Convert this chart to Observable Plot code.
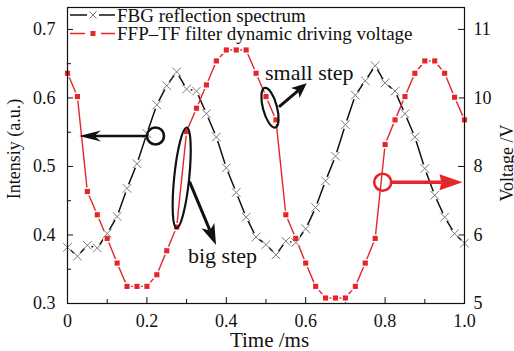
<!DOCTYPE html>
<html><head><meta charset="utf-8">
<script src="https://cdn.jsdelivr.net/npm/d3@7"></script>
<script src="https://cdn.jsdelivr.net/npm/@observablehq/plot@0.6"></script>
<style>body{margin:0;background:#fff}</style>
</head><body><div id="chart"></div>
<script>
// ---- data ----
const time = [0,0.025,0.05,0.075,0.1,0.125,0.15,0.175,0.2,0.225,0.25,0.275,0.3,0.325,0.35,0.375,0.4,0.425,0.45,0.475,0.5,0.525,0.55,0.575,0.6,0.625,0.65,0.675,0.7,0.725,0.75,0.775,0.8,0.825,0.85,0.875,0.9,0.925,0.95,0.975,1.0];
const fbgIntensity = [0.382,0.369,0.385,0.381,0.402,0.427,0.468,0.504,0.548,0.590,0.618,0.638,0.613,0.610,0.577,0.543,0.498,0.462,0.426,0.397,0.386,0.371,0.391,0.389,0.409,0.440,0.479,0.515,0.561,0.604,0.625,0.647,0.622,0.610,0.577,0.543,0.497,0.458,0.426,0.402,0.388];
const driveVoltage = [10.36,10.02,7.27,6.59,5.95,5.59,5.25,5.25,5.25,5.42,5.77,6.23,9.02,9.70,10.19,10.54,10.70,10.70,10.70,10.36,10.02,9.36,6.59,5.95,5.59,5.25,5.08,5.08,5.08,5.25,5.59,5.95,8.64,9.36,10.02,10.36,10.54,10.54,10.36,10.01,9.36];
const xTicks = [0,0.2,0.4,0.6,0.8,1.0];
const xMinorTicks = [0.1,0.3,0.5,0.7,0.9];
const yTicks = [0.3,0.4,0.5,0.6,0.7];
const yMinorTicks = [0.35,0.45,0.55,0.65];
const voltTicks = [5,6,8,10,11];
const seriesNames = ["FBG reflection spectrum","FFP\u2013TF filter dynamic driving voltage"];
const axisTitles = {x:"Time /ms", y:"Intensiy (a.u.)", y2:"Voltage /V"};
// annotation anchors in data units (time, left-axis value)
const annotations = {
  blackCircle:[0.2229,0.5438], blackTip:[0.0302,0.5438],
  redCircle:[0.7952,0.4762], redTip:[0.9962,0.4762],
  smallEllipse:[0.5113,0.5850], smallTail:[0.534,0.5861], smallTip:[0.6038,0.6207], smallText:[0.4987,0.6255],
  bigEllipse:[0.2889,0.4828], bigTail:[0.3086,0.4771], bigTip:[0.3753,0.3847], bigText:[0.3048,0.3584]
};

const RED = "#e4262b";
const W = 514, H = 351, ML = 67, MR = 50, MT = 7, MB = 48;
const PW = W - ML - MR, PH = H - MT - MB;

// right axis is piecewise: its tick labels sit at the left-axis tick heights
const voltToY = d3.scaleLinear().domain(voltTicks).range(yTicks);

const fbg = time.map((t,i) => ({t, v: fbgIntensity[i]}));
const drv = time.map((t,i) => ({t, v: driveVoltage[i]}));

const plot = Plot.plot({
  width: W, height: H, marginLeft: ML, marginRight: MR, marginTop: MT, marginBottom: MB,
  x: {domain: [0, 1]},
  y: {domain: [0.3, 0.732]},
  style: {fontFamily: "'Liberation Serif', serif", fontSize: "18px", background: "#fff", color: "#111"},
  marks: [
    Plot.tickY(yTicks, {y: d => d, insetRight: PW - 6, stroke: "#111"}),
    Plot.tickY(yMinorTicks, {y: d => d, insetRight: PW - 4, stroke: "#111"}),
    Plot.tickY(yTicks, {y: d => d, insetLeft: PW - 6, stroke: "#111"}),
    Plot.tickX(xTicks, {x: d => d, insetTop: PH - 6, stroke: "#111"}),
    Plot.tickX(xMinorTicks, {x: d => d, insetTop: PH - 4, stroke: "#111"}),
    Plot.line(fbg, {x: "t", y: "v", stroke: "#111", strokeWidth: 1.5}),
    Plot.line(drv, {x: "t", y: d => voltToY(d.v), stroke: RED, strokeWidth: 1.4}),
    Plot.dot(fbg, {x: "t", y: "v", r: 4.3, fill: "#fff"}),
    Plot.dot(drv, {x: "t", y: d => voltToY(d.v), symbol: "square", r: 4.6, fill: "#fff"}),
    Plot.dot(fbg, {x: "t", y: "v", symbol: "times", r: 4, stroke: "#7a7a7a", strokeWidth: 1}),
    Plot.dot(drv, {x: "t", y: d => voltToY(d.v), symbol: "square", r: 2.9, fill: RED}),
    Plot.frame({stroke: "#111", strokeWidth: 1.2}),
    Plot.axisX(xTicks, {tickSize: 0, tickPadding: 11, label: null, fontSize: 18,
      tickFormat: d => d === 0 ? "0" : d.toFixed(1)}),
    Plot.axisY(yTicks, {anchor: "left", tickSize: 0, tickPadding: 12, label: null, fontSize: 18,
      tickFormat: d => d.toFixed(1)}),
    Plot.axisY(voltTicks.map(v => voltToY(v)), {anchor: "right", tickSize: 0, tickPadding: 9, label: null, fontSize: 18,
      tickFormat: d => String(Math.round(voltToY.invert(d)))})
  ]
});
document.getElementById("chart").appendChild(plot);

// ---- overlay: titles, legend, annotations (positioned through Plot's scales) ----
const sx = plot.scale("x"), sy = plot.scale("y");
const X = d3.scaleLinear(sx.domain, sx.range), Y = d3.scaleLinear(sy.domain, sy.range);
const P = a => [X(a[0]), Y(a[1])];
const g = d3.select(plot).append("g").attr("font-family", "'Liberation Serif', serif").attr("fill", "#111").attr("text-anchor", "start");

g.append("text").attr("transform", `translate(20,${(MT + H - MB) / 2 - 6}) rotate(-90)`)
  .attr("text-anchor", "middle").attr("font-size", 18).text(axisTitles.y);
g.append("text").attr("transform", `translate(513,${(MT + H - MB) / 2 + 8}) rotate(-90)`)
  .attr("text-anchor", "middle").attr("font-size", 18).text(axisTitles.y2);
g.append("text").attr("x", (ML + W - MR) / 2 + 4).attr("y", H - 4)
  .attr("text-anchor", "middle").attr("font-size", 21).text(axisTitles.x);

// legend
const lx = ML + 3;
g.append("line").attr("x1", lx).attr("x2", lx + 17).attr("y1", 15).attr("y2", 15).attr("stroke", "#111").attr("stroke-width", 1.5);
g.append("line").attr("x1", lx + 29).attr("x2", lx + 45).attr("y1", 15).attr("y2", 15).attr("stroke", "#111").attr("stroke-width", 1.5);
g.append("path").attr("d", `M${lx+19.5},${11.5}L${lx+26.5},${18.5}M${lx+26.5},${11.5}L${lx+19.5},${18.5}`).attr("stroke", "#7a7a7a").attr("fill", "none");
g.append("text").attr("x", lx + 47).attr("y", 22).attr("text-anchor", "start").attr("font-size", 19).text(seriesNames[0]);
g.append("line").attr("x1", lx).attr("x2", lx + 15).attr("y1", 33.5).attr("y2", 33.5).attr("stroke", RED).attr("stroke-width", 1.5);
g.append("line").attr("x1", lx + 31).attr("x2", lx + 45).attr("y1", 33.5).attr("y2", 33.5).attr("stroke", RED).attr("stroke-width", 1.5);
g.append("rect").attr("x", lx + 20.5).attr("y", 31).attr("width", 5).attr("height", 5).attr("fill", RED);
g.append("text").attr("x", lx + 47).attr("y", 39.5).attr("text-anchor", "start").attr("font-size", 19).text(seriesNames[1]);

function arrow(tail, tip, color, width, headLen, headHalf, notch) {
  const [x1, y1] = tail, [x2, y2] = tip;
  const a = Math.atan2(y2 - y1, x2 - x1), ux = Math.cos(a), uy = Math.sin(a), nx = -uy, ny = ux;
  const bx = x2 - ux * headLen, by = y2 - uy * headLen;
  const qx = x2 - ux * headLen * (1 - notch), qy = y2 - uy * headLen * (1 - notch);
  g.append("line").attr("x1", x1).attr("y1", y1).attr("x2", qx).attr("y2", qy)
    .attr("stroke", color).attr("stroke-width", width);
  g.append("path").attr("d", `M${x2},${y2}L${bx + nx * headHalf},${by + ny * headHalf}L${qx},${qy}L${bx - nx * headHalf},${by - ny * headHalf}Z`)
    .attr("fill", color);
}
function ringArrow(center, tip, color, r, width, headLen, headHalf, notch) {
  const [cx, cy] = P(center), [tx, ty] = P(tip);
  g.append("circle").attr("cx", cx).attr("cy", cy).attr("r", r).attr("fill", "none").attr("stroke", color).attr("stroke-width", 2.6);
  const d = Math.hypot(tx - cx, ty - cy);
  arrow([cx + (tx - cx) / d * r, cy + (ty - cy) / d * r], [tx, ty], color, width, headLen, headHalf, notch);
}
ringArrow(annotations.blackCircle, annotations.blackTip, "#111", 8.5, 2.6, 22, 5.5, 0.3);
ringArrow(annotations.redCircle, annotations.redTip, RED, 8.5, 3.6, 23, 8, 0.08);

function ellipse(center, rx, ry, angle) {
  const [cx, cy] = P(center);
  g.append("ellipse").attr("transform", `translate(${cx},${cy}) rotate(${angle})`)
    .attr("rx", rx).attr("ry", ry).attr("fill", "none").attr("stroke", "#111").attr("stroke-width", 2.2);
}
ellipse(annotations.smallEllipse, 20.5, 7, 75);
ellipse(annotations.bigEllipse, 50.5, 7.5, -84.2);
arrow(P(annotations.smallTail), P(annotations.smallTip), "#111", 3, 15, 6.5, 0.25);
arrow(P(annotations.bigTail), P(annotations.bigTip), "#111", 3, 21, 7, 0.25);
const st = P(annotations.smallText), bt = P(annotations.bigText);
g.append("text").attr("x", st[0]).attr("y", st[1]).attr("text-anchor", "start").attr("font-size", 22).text("small step");
g.append("text").attr("x", bt[0]).attr("y", bt[1]).attr("text-anchor", "start").attr("font-size", 22).text("big step");
</script>
</body></html>
